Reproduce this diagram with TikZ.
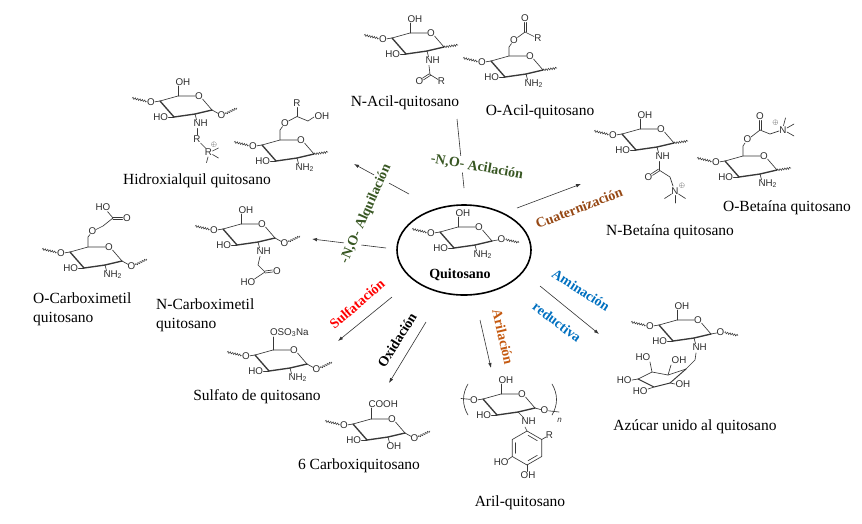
\documentclass[tikz,border=0pt]{standalone}
\usepackage{fontspec}
\setmainfont{Liberation Serif}
\newfontfamily\chemfam{Liberation Sans}
\usetikzlibrary{decorations.pathmorphing,arrows.meta,shapes.geometric,calc}
\newcommand\chemfont{\chemfam\fontsize{9.8}{10}\selectfont}
\newcommand\capfont{\fontsize{15.5}{19}\selectfont}
\newcommand\rxnfont{\bfseries\fontsize{14}{16}\selectfont}
\definecolor{rgreen}{RGB}{56,87,35}
\definecolor{rbrown}{RGB}{150,72,20}
\definecolor{rblue}{RGB}{0,112,192}
\definecolor{rorange}{RGB}{197,90,17}
\definecolor{rred}{RGB}{255,0,0}
\tikzset{
 bond/.style={line width=0.65pt, draw=black!78, line cap=round},
 fbond/.style={line width=1.35pt, draw=black!78, line cap=round, line join=round},
 wav/.style={draw=black!78, line width=0.55pt, decorate, decoration={snake, amplitude=0.9pt, segment length=2.4pt}},
 atm/.style={font=\chemfont, text=black!82, inner sep=0.3pt},
 atmNW/.style={atm, anchor=north west},
 plus/.style={atm, font=\fontsize{7.5}{8}\selectfont},
 capt/.style={font=\capfont, text=black, inner sep=1pt},
 rxn/.style={font=\rxnfont, inner sep=2pt, fill=white},
 arr/.style={draw=black!80, line width=0.6pt, -{Latex[length=5pt,width=3.5pt]}},
 seg/.style={draw=black!80, line width=0.6pt},
}
% double bond between two local points
\newcommand\dbl[2]{%
 \draw[bond] ($#1!1pt!90:#2$) -- ($#2!1pt!-90:#1$);
 \draw[bond] ($#1!1pt!-90:#2$) -- ($#2!1pt!90:#1$);}
% glucosamine chair core, C4 at local origin
\newcommand\glc[1]{%
 \draw[bond] (0,0) -- (18,-5) -- (35,-5);
 \node[atm] (#1O5) at (39,-5) {O};
 \draw[bond] (42.5,-2) -- (52,9);
 \draw[fbond] (52,9) -- (35,13) -- (14,16) -- (0,0);
 \draw[bond] (14,16) -- (8.5,16);
 \node[atm,anchor=east] (#1HO) at (8.5,16) {HO};
 \draw[bond] (0,0) -- (-5,0.8);
 \node[atm] (#1O4) at (-9,1) {O};
}
\newcommand\lwav{\draw[wav] (-13.5,0.3) -- (-28,-3);}
\newcommand\rmid[1]{\draw[bond] (52,9) -- (57.5,8); \node[atm] (#1O1) at (61.5,7.5) {O}; \draw[wav] (65.5,7.5) -- (79,10.5);}
\newcommand\rlow[1]{\draw[bond] (52,9) -- (58,12.3); \node[atm] (#1O1) at (61.5,14) {O}; \draw[wav] (65.5,12.8) -- (77,7);}
\newcommand\rwav{\draw[wav] (52,9) -- (66,7);}
\newcommand\csix[1]{\draw[bond] (18,-5) -- (18,-15); \node[atm,anchor=south west] (#1O6) at (15,-14.5) {OH};}
\newcommand\ntwo[1]{\draw[bond] (35,13) -- (36.5,18.5); \node[atmNW] (#1N) at (33,18.2) {NH\textsubscript{2}};}
\newcommand\nh[1]{\draw[bond] (35,13) -- (36.5,18.5); \node[atmNW] (#1N) at (33,18.2) {NH};}
\begin{document}
\begin{tikzpicture}[x=1pt,y=-1pt]
\useasboundingbox (0,0) rectangle (862,523);
\fill[white] (0,0) rectangle (862,523);

% ---------- central chitosan
\node[draw, ellipse, line width=1.6pt, minimum width=134pt, minimum height=90pt, inner sep=0pt] (qt) at (464,250) {};
\begin{scope}[shift={(440,232)}]
 \glc{c}\lwav\csix{c}\ntwo{c}\rmid{c}
\end{scope}
\node[font=\bfseries\fontsize{14}{16}\selectfont, inner sep=0pt] (qlab) at (460,275) {Quitosano};

% ---------- connectors
\coordinate (a1s) at (464,188); \coordinate (a1e) at (457,119);
\coordinate (a2s) at (409,194); \coordinate (a2e) at (354,164);
\coordinate (a3s) at (386,248); \coordinate (a3e) at (312,239);
\coordinate (a4s) at (517,208); \coordinate (a4e) at (581,184);
\coordinate (a5s) at (540,286); \coordinate (a5e) at (599,334);
\coordinate (a6s) at (480,320); \coordinate (a6e) at (491,368);
\coordinate (a7s) at (426,322); \coordinate (a7e) at (389,383);
\coordinate (a8s) at (392,297); \coordinate (a8e) at (338,341);
\draw[seg] (a1s) -- (a1e);
\draw[arr] (a2s) -- (a2e);
\draw[arr] (a3s) -- (a3e);
\draw[arr] (a4s) -- (a4e);
\draw[arr] (a5s) -- (a5e);
\draw[arr] (a6s) -- (a6e);
\draw[arr] (a7s) -- (a7e);
\draw[arr] (a8s) -- (a8e);

% ---------- reaction labels
\node[rxn, text=rgreen, rotate=-10] (racyl) at (477,167) {-N,O- Acilación};
\node[rxn, text=rgreen, rotate=66] (ralq) at (366,214) {-N,O- Alquilación};
\node[rxn, text=rbrown, rotate=21, fill=none] (rcuat) at (579,208) {Cuaternización};
\node[rxn, text=rblue, rotate=-33, fill=none] (ramin) at (581,290) {Aminación};
\node[rxn, text=rblue, rotate=-37, fill=none] (rred) at (557,322) {reductiva};
\node[rxn, text=rorange, rotate=-77, fill=none] (raril) at (503,337) {Arilación};
\node[rxn, text=black, rotate=58, fill=none] (roxi) at (397,340) {Oxidación};
\node[rxn, text=rred, rotate=41, fill=none] (rsulf) at (357,304) {Sulfatación};

% ---------- N-Acil
\begin{scope}[shift={(392,38)}]
 \glc{na}\lwav\csix{na}\rwav\nh{na}
 \draw[bond] (37,27.5) -- (38,36.5);
 \dbl{(38,36.5)}{(31,41)}
 \node[atm] (naO) at (27.5,43.5) {O};
 \draw[bond] (38,36.5) -- (46,41.5);
 \node[atm] (naR) at (49.5,43.5) {R};
\end{scope}
% ---------- O-Acil
\begin{scope}[shift={(491,61)}]
 \glc{oa}\lwav\ntwo{oa}\rwav
 \draw[bond] (18,-5) -- (18,-14) -- (20.5,-17.5);
 \node[atm] (oaO) at (23,-21) {O};
 \draw[bond] (26.5,-23.5) -- (34,-29);
 \dbl{(34,-29)}{(34,-38.5)}
 \node[atm] (oaO2) at (34,-43) {O};
 \draw[bond] (34,-29) -- (43,-24.5);
 \node[atm] (oaR) at (47,-22.5) {R};
\end{scope}
% ---------- Hidroxialquil (N)
\begin{scope}[shift={(160,101)}]
 \glc{ha}\lwav\csix{ha}\rlow{ha}\nh{ha}
 \draw[bond] (37,27.5) -- (37,34);
 \node[atm] (haR1) at (37,38.5) {R};
 \draw[bond] (40.5,42) -- (46,47.5);
 \node[atm] (haR2) at (48.5,51.5) {R};
 \node[plus] (haP) at (54,43.5) {$\oplus$};
 \draw[bond] (52.5,50) -- (58.5,47);
 \draw[bond] (52.5,53.5) -- (58.5,57);
 \draw[bond] (48,56) -- (46.5,61.5);
\end{scope}
% ---------- Hidroxialquil (O)
\begin{scope}[shift={(262,145)}]
 \glc{hb}\lwav\ntwo{hb}\rwav
 \draw[bond] (18,-5) -- (18,-15) -- (20.5,-18.5);
 \node[atm] (hbO) at (23,-22) {O};
 \draw[bond] (26.5,-24) -- (35,-28.5);
 \draw[bond] (35,-28.5) -- (35,-37.5);
 \node[atm] (hbR) at (35,-42) {R};
 \draw[bond] (35,-28.5) -- (46,-24) -- (52,-28);
 \node[atm,anchor=west] (hbOH) at (52,-28.5) {OH};
\end{scope}
% ---------- O-Carboximetil
\begin{scope}[shift={(70,252)}]
 \glc{oc}\lwav\ntwo{oc}\rlow{oc}
 \draw[bond] (18,-5) -- (18,-15) -- (20,-17.5);
 \node[atm] (ocO) at (22.5,-21) {O};
 \draw[bond] (26,-22.5) -- (33,-26) -- (43,-34);
 \dbl{(43,-34)}{(52.5,-34)}
 \node[atm] (ocO2) at (57,-34) {O};
 \draw[bond] (43,-34) -- (37.5,-40.5);
 \node[atm] (ocHO) at (33,-45) {HO};
\end{scope}
% ---------- N-Carboximetil
\begin{scope}[shift={(223,229)}]
 \glc{nc}\lwav\csix{nc}\rlow{nc}\nh{nc}
 \draw[bond] (37,27.5) -- (35,36) -- (42,43);
 \dbl{(42,43)}{(49.5,42)}
 \node[atm] (ncO) at (54,42) {O};
 \draw[bond] (42,43) -- (31.5,50);
 \node[atm] (ncHO) at (25,53.5) {HO};
\end{scope}
% ---------- Sulfato
\begin{scope}[shift={(255,355)}]
 \glc{s}\lwav\ntwo{s}\rlow{s}
 \draw[bond] (18,-5) -- (18,-18);
 \node[atm,anchor=south west] (sG) at (14.5,-17.5) {OSO\textsubscript{3}Na};
\end{scope}
% ---------- 6 Carboxi
\begin{scope}[shift={(353,424)}]
 \glc{cx}\lwav\rlow{cx}
 \draw[bond] (35,13) -- (36.5,18.5);
 \node[atmNW] (cxOH) at (33,18.2) {OH};
 \draw[bond] (18,-5) -- (18,-16);
 \node[atm,anchor=south west] (cxG) at (15,-15.5) {COOH};
\end{scope}
% ---------- Aril
\begin{scope}[shift={(483,399)}]
 \glc{ar}\csix{ar}
 \draw[bond] (-13,0.3) -- (-22,-0.5);
 \draw[bond] (52,9) -- (57.5,10.5);
 \node[atm] (arO1) at (61.5,11.5) {O};
 \draw[bond] (65.5,11.8) -- (76,13);
 \draw[bond] (-15,-15) .. controls (-21,-5) and (-21,6) .. (-15,16);
 \draw[bond] (69,-15) .. controls (75,-5) and (75,6) .. (69,16);
 \node[atm,font=\chemfam\itshape\fontsize{8}{8}\selectfont] (arn) at (76.5,21) {n};
 \draw[bond] (35,13) -- (41,19);
 \node[atmNW] (arN) at (38,18.7) {NH};
 \draw[bond] (42,28) -- (44,32);
 \draw[bond] (44,32) -- (58.7,40.5) -- (58.7,57.5) -- (44,66) -- (29.3,57.5) -- (29.3,40.5) -- cycle;
 \draw[bond] (45.2,36.4) -- (54.3,41.7);
 \draw[bond] (54.3,56.3) -- (45.2,61.6);
 \draw[bond] (32.5,54.2) -- (32.5,43.8);
 \draw[bond] (58.7,40.5) -- (63,38);
 \node[atm] (arR) at (66.5,36.5) {R};
 \draw[bond] (29.3,57.5) -- (25,60.5);
 \node[atm,anchor=north east] (arHO) at (26,59.5) {HO};
 \draw[bond] (44,66) -- (44,72.5);
 \node[atm,anchor=north] (arOH) at (45,72) {OH};
\end{scope}
% ---------- Azucar
\begin{scope}[shift={(659,325)}]
 \glc{az}\lwav\csix{az}\rmid{az}\nh{az}
\end{scope}
\draw[bond] (696,353) -- (695,360) -- (686,369);
\draw[bond] (638,379) -- (652,372) -- (668,375) -- (686,369);
\draw[fbond, line width=0.95pt] (686,369) -- (670,383) -- (654,387) -- (638,379);
\draw[bond] (652,372) -- (650,362);
\node[atm] (azHO1) at (643,357) {HO};
\draw[bond] (668,375) -- (671,365);
\node[atm] (azOH2) at (679,360) {OH};
\draw[bond] (638,379) -- (632,380);
\node[atm,anchor=east] (azHO3) at (632,380.5) {HO};
\draw[bond] (654,387) -- (648,389);
\node[atm,anchor=east] (azHO4) at (648,391) {HO};
\draw[bond] (670,383) -- (675,384);
\node[atm,anchor=west] (azOH5) at (675,384) {OH};
% ---------- N-Betaina
\begin{scope}[shift={(622,134)}]
 \glc{nb}\lwav\csix{nb}\rwav\nh{nb}
 \draw[bond] (37,27.5) -- (37,36);
 \dbl{(37,36)}{(30,40.5)}
 \node[atm] (nbO) at (26.5,43) {O};
 \draw[bond] (37,36) -- (48,43) -- (51,52);
 \node[atm] (nbN2) at (53,57) {N};
 \node[plus] (nbP) at (60,51.5) {$\oplus$};
 \draw[bond] (49.5,60) -- (42.5,64.5);
 \draw[bond] (56.5,60) -- (63.5,64.5);
 \draw[bond] (53,61.5) -- (53,69);
\end{scope}
% ---------- O-Betaina
\begin{scope}[shift={(725,161)}]
 \glc{ob}\lwav\ntwo{ob}\rwav
 \draw[bond] (18,-5) -- (18,-15) -- (20,-18);
 \node[atm] (obO) at (22.5,-21.5) {O};
 \draw[bond] (26,-24) -- (35,-31);
 \dbl{(35,-31)}{(35,-40.5)}
 \node[atm] (obO2) at (35,-45) {O};
 \draw[bond] (35,-31) -- (45,-27) -- (54,-30);
 \node[atm] (obN) at (58,-31) {N};
 \node[plus] (obP) at (50.5,-38) {$\oplus$};
 \draw[bond] (58.5,-35.5) -- (60.5,-43);
 \draw[bond] (62,-33) -- (69,-37);
 \draw[bond] (62,-29) -- (69,-25);
\end{scope}

% ---------- captions
\node[capt] (tNA) at (405,103) {N-Acil-quitosano};
\node[capt] (tOA) at (540,112) {O-Acil-quitosano};
\node[capt] (tHA) at (197,181) {Hidroxialquil quitosano};
\node[capt, align=left, anchor=north west] (tOC) at (32,292) {O-Carboximetil\\quitosano};
\node[capt, align=left, anchor=north west] (tNC) at (155,298) {N-Carboximetil\\quitosano};
\node[capt] (tS) at (257,397) {Sulfato de quitosano};
\node[capt] (tCX) at (359,466) {6 Carboxiquitosano};
\node[capt] (tAR) at (520,503) {Aril-quitosano};
\node[capt] (tAZ) at (695,427) {Azúcar unido al quitosano};
\node[capt] (tNB) at (670,232) {N-Betaína quitosano};
\node[capt] (tOB) at (787,208) {O-Betaína quitosano};
\end{tikzpicture}
\end{document}
